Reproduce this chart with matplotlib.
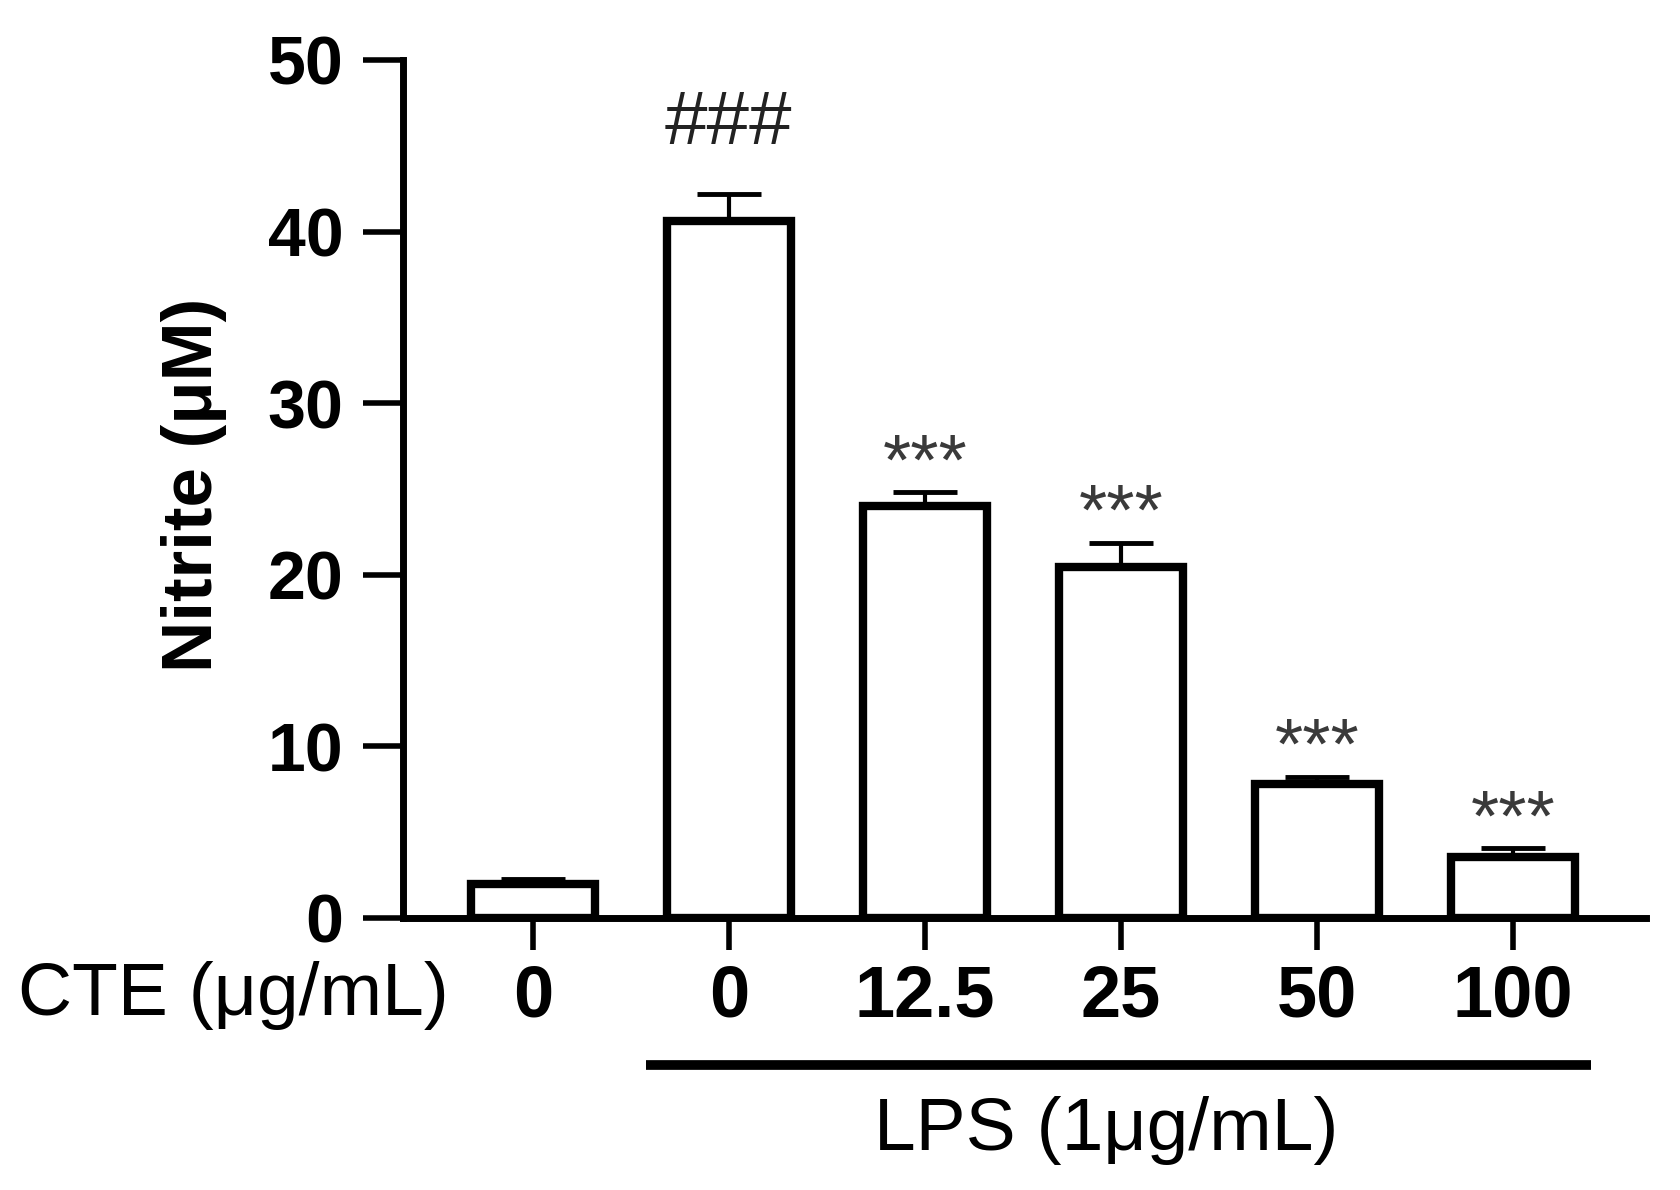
import numpy as np
import matplotlib.pyplot as plt

cte_labels = ['0', '0', '12.5', '25', '50', '100']
nitrite = [2.0, 40.6, 24.0, 20.45, 7.8, 3.55]
sem = [0.25, 1.6, 0.8, 1.4, 0.4, 0.5]
marks = ['', '###', '***', '***', '***', '***']

plt.rcParams['font.family'] = ['Liberation Sans', 'DejaVu Sans']

fig = plt.figure(figsize=(16.81, 11.90), dpi=100)
ax = fig.add_axes([0.2397, 0.2286, 0.7395, 0.7210])

x = np.arange(len(nitrite))
ax.bar(x, nitrite, width=0.63, facecolor='white', edgecolor='black',
       linewidth=6, zorder=3)
ax.errorbar(x, nitrite, yerr=[np.zeros(len(sem)), sem], fmt='none',
            ecolor='black', elinewidth=3, capsize=23, capthick=3.5, zorder=2)

for i, m in enumerate(marks):
    if m == '###':
        ax.annotate(m, (x[i], nitrite[i] + sem[i]), xytext=(0, 36),
                    textcoords='offset points', ha='center', va='baseline',
                    fontsize=55, color='#222222')
    elif m:
        ax.annotate(m, (x[i], nitrite[i] + sem[i]), xytext=(0, 6),
                    textcoords='offset points', ha='center', va='baseline',
                    fontsize=52, color='#3a3a3a')

ax.set_xlim(-0.663, 5.68)
ax.set_ylim(0, 50)
ax.set_yticks([0, 10, 20, 30, 40, 50])
ax.set_xticks(x)
ax.set_xticklabels(cte_labels, fontsize=52, fontweight='bold')
for t in ax.get_yticklabels():
    t.set_fontsize(49)
    t.set_fontweight('bold')

ax.spines['top'].set_visible(False)
ax.spines['right'].set_visible(False)
ax.spines['left'].set_linewidth(5)
ax.spines['bottom'].set_linewidth(5)
ax.tick_params(axis='y', length=29, width=4, pad=14)
ax.tick_params(axis='x', length=23, width=4, pad=10)

fig.text(194 / 1681, 1 - 485 / 1190, 'Nitrite (μM)', rotation=90,
         ha='center', va='center', fontsize=51, fontweight='bold')
fig.text(18 / 1681, 1 - 1015 / 1190, 'CTE (μg/mL)', ha='left',
         va='baseline', fontsize=54)

# LPS bracket under the treated groups
ax.plot([0.577, 5.40], [-8.57, -8.57], color='black', linewidth=7,
        solid_capstyle='butt', clip_on=False)
fig.text(1106 / 1681, 1 - 1150 / 1190, 'LPS (1μg/mL)', ha='center',
         va='baseline', fontsize=54)

fig.savefig('out.png', dpi=100)
